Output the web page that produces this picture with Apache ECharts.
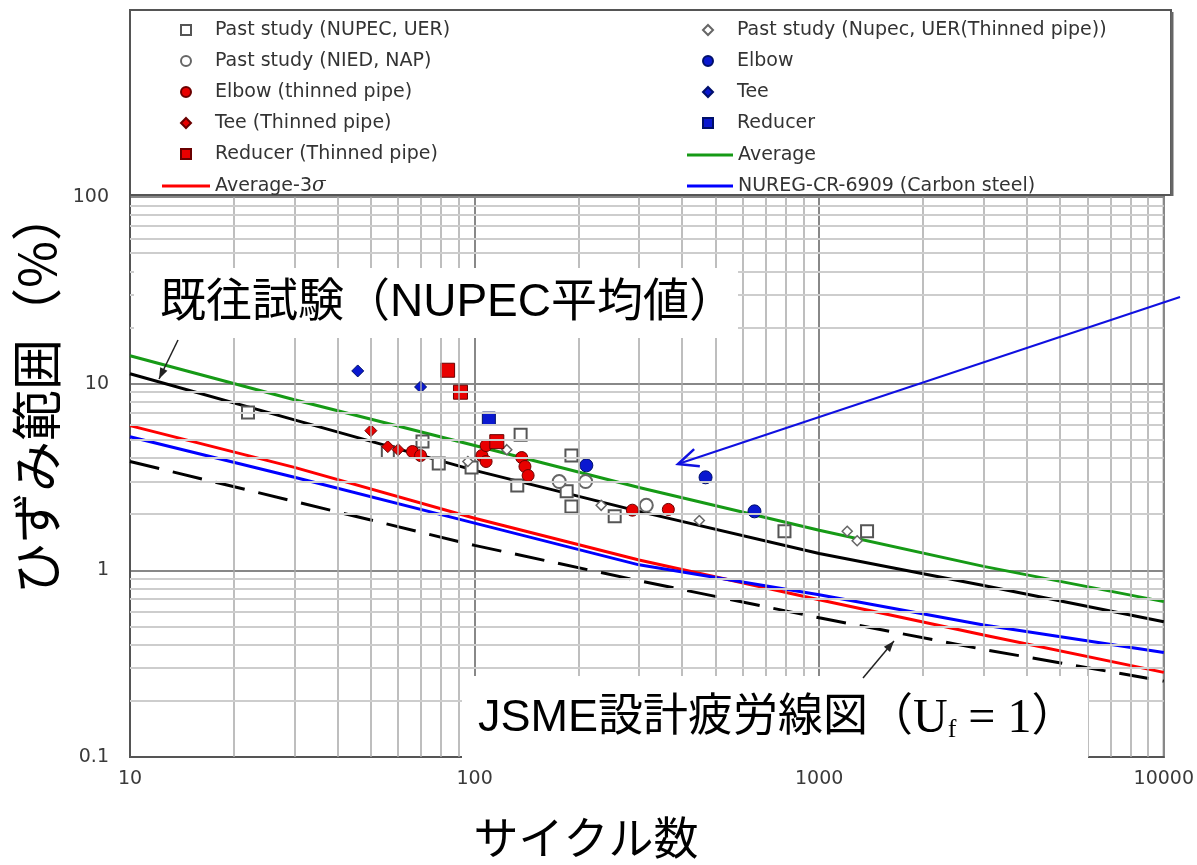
<!DOCTYPE html>
<html>
<head>
<meta charset="utf-8">
<script src="https://cdn.jsdelivr.net/npm/echarts@6/dist/echarts.min.js"></script>
<style>
  html, body { margin: 0; padding: 0; background: #fff; }
  #chart { width: 1197px; height: 865px; }
</style>
</head>
<body>
<div id="chart"></div>
<script>
// ---- Fatigue curves (strain range % vs. number of cycles) ----
const cycles = [10, 30, 100, 300, 1000, 3000, 10000];
const averageCurve = [14.1, 8.2, 4.66, 2.78, 1.64, 1.05, 0.68];
const nupecAverageCurve = [11.3, 6.4, 3.43, 2.07, 1.23, 0.83, 0.53];
const averageMinus3sCurve = [5.96, 3.56, 1.9, 1.135, 0.695, 0.45, 0.284];
const nuregCurve = [5.2, 3.15, 1.79, 1.07, 0.74, 0.51, 0.363];
const jsmeCurve = [3.83, 2.34, 1.36, 0.88, 0.557, 0.377, 0.255];

// ---- Test results [cycles, strain range %] ----
const pastNupecUer = [[22, 7.0], [56, 4.3], [70.6, 4.9], [78.7, 3.73], [98, 3.56], [133, 2.85], [136, 5.33],
  [185, 2.65], [191, 4.12], [191, 2.2], [255, 1.95], [793, 1.62], [1377, 1.62]];
const pastNupecThinned = [[95.6, 3.83], [124, 4.43], [233, 2.23], [449, 1.85], [1206, 1.62], [1289, 1.44]];
const pastNiedNap = [[176, 2.99], [210, 2.99], [315, 2.23]];
const elbow = [[211, 3.65], [468, 3.15], [649, 2.07]];
const tee = [[45.8, 11.7], [69.7, 9.6]];
const reducer = [[110, 6.5]];
const elbowThinned = [[66, 4.33], [69.7, 4.12], [105, 4.12], [108, 4.66], [108, 3.83], [137, 4.02],
  [140, 3.6], [143, 3.22], [287, 2.1], [365, 2.12]];
const teeThinned = [[50, 5.6], [56, 4.6], [60, 4.43]];
const reducerThinned = [[83.5, 11.8], [91, 9.0], [116, 4.89]];

// ---- Tick labels ----
const xTickLabels = { 10: '10', 100: '100', 1000: '1000', 10000: '10000' };
const yTickLabels = { 0.1: '0.1', 1: '1', 10: '10', 100: '100' };

const NAMES = {
  uer: 'Past study (NUPEC, UER)',
  uerThin: 'Past study (Nupec, UER(Thinned pipe))',
  nied: 'Past study (NIED, NAP)',
  elbow: 'Elbow',
  elbowThin: 'Elbow (thinned pipe)',
  tee: 'Tee',
  teeThin: 'Tee (Thinned pipe)',
  reducer: 'Reducer',
  reducerThin: 'Reducer (Thinned pipe)',
  avg: 'Average',
  avg3s: 'Average-3σ',
  nureg: 'NUREG-CR-6909 (Carbon steel)'
};

const pair = arr => cycles.map((c, i) => [c, arr[i]]);

// Log-paper minor grid lines (2..9 within each decade)
const minorGrid = [];
[10, 100, 1000].forEach(d => { for (let k = 2; k <= 9; k++) minorGrid.push({ xAxis: d * k, lineStyle: { color: '#a8a8a8', width: 1.5, type: 'solid' } }); });
[0.1, 1, 10].forEach(d => { for (let k = 2; k <= 9; k++) minorGrid.push({ yAxis: +(d * k).toFixed(2), lineStyle: { color: '#cdcdcd', width: 2, type: 'solid' } }); });

const BLUE = '#0a18d0', BLUE_EDGE = '#00106a';
const RED = '#e80000', RED_EDGE = '#6a0000';

function lineSeries(name, data, color, extra) {
  return Object.assign({
    name, type: 'line', data: pair(data), symbol: 'none', showSymbol: false, smooth: false,
    lineStyle: { color, width: 3 }, itemStyle: { color }, z: 2, silent: true
  }, extra || {});
}
function scatterSeries(name, data, symbol, size, fill, edge, bw) {
  return {
    name, type: 'scatter', data, symbol, symbolSize: size, z: 3,
    itemStyle: { color: fill, borderColor: edge, borderWidth: bw, opacity: 1 }
  };
}

// Arrow head helpers (annotation drawings)
function filledHead(tail, tip, len, half) {
  const dx = tip[0] - tail[0], dy = tip[1] - tail[1];
  const L = Math.hypot(dx, dy), ux = dx / L, uy = dy / L;
  const bx = tip[0] - ux * len, by = tip[1] - uy * len;
  return [tip, [bx - uy * half, by + ux * half], [bx + uy * half, by - ux * half]];
}
function openHead(tail, tip, len, half) {
  const p = filledHead(tail, tip, len, half);
  return [p[1], p[0], p[2]];
}

const legendText = { fontFamily: 'DejaVu Sans', fontSize: 19, color: '#333',
  rich: { n: { fontFamily: 'DejaVu Sans', fontSize: 19, color: '#333' },
          s: { fontFamily: 'DejaVu Serif', fontStyle: 'italic', fontSize: 20, color: '#333' } } };
const legendFormatter = name => name === NAMES.avg3s ? '{n|Average-3}{s|σ}' : name;
const lineIcon = name => ({ name, icon: 'rect' });

const arrow1 = { tail: [178, 340], tip: [159, 379] };
const arrow2 = { tail: [863, 678], tip: [894, 641] };
const arrowBlue = { tail: [1180, 297], tip: [678, 464] };

const JP = '"Liberation Sans", "Noto Sans CJK JP", sans-serif';

const option = {
  animation: false,
  backgroundColor: '#fff',
  grid: { left: 130, right: 32, top: 197, bottom: 105, show: true, borderColor: '#555', borderWidth: 2, backgroundColor: '#fff' },
  xAxis: {
    type: 'log', logBase: 10, min: 10, max: 10000,
    name: 'サイクル数', nameLocation: 'middle', nameGap: 58,
    nameTextStyle: { fontFamily: 'Noto Sans CJK JP', fontSize: 45, color: '#000', padding: [0, 122, 0, 0] },
    axisLine: { show: true, lineStyle: { color: '#555', width: 2 } },
    axisTick: { show: false },
    axisLabel: { fontFamily: 'DejaVu Sans', fontSize: 19, color: '#3a3a3a', margin: 13,
      formatter: v => xTickLabels[Math.round(v)] || '' },
    splitLine: { show: true, lineStyle: { color: '#888', width: 2 } }
  },
  yAxis: {
    type: 'log', logBase: 10, min: 0.1, max: 100,
    name: 'ひずみ範囲（%）', nameLocation: 'middle', nameRotate: 90, nameGap: 62,
    nameTextStyle: { fontFamily: 'Noto Sans CJK JP', fontSize: 51, color: '#000', padding: [0, 0, 0, 170] },
    axisLine: { show: true, lineStyle: { color: '#555', width: 2 } },
    axisTick: { show: false },
    axisLabel: { fontFamily: 'DejaVu Sans', fontSize: 19, color: '#3a3a3a', margin: 21,
      formatter: v => yTickLabels[+(+v).toPrecision(3)] || '' },
    splitLine: { show: true, lineStyle: { color: '#888', width: 2 } }
  },
  legend: [
    { left: 175, top: 15, orient: 'vertical', itemWidth: 10, itemHeight: 10, itemGap: 11,
      data: [NAMES.uer, NAMES.nied, NAMES.elbowThin, NAMES.teeThin, NAMES.reducerThin],
      textStyle: Object.assign({ padding: [0, 0, 0, 19], lineHeight: 20 }, legendText), selectedMode: false },
    { left: 157, top: 171, orient: 'vertical', itemWidth: 48, itemHeight: 3, itemGap: 11,
      data: [lineIcon(NAMES.avg3s)], formatter: legendFormatter,
      textStyle: Object.assign({ lineHeight: 20 }, legendText), selectedMode: false },
    { left: 697, top: 15, orient: 'vertical', itemWidth: 10, itemHeight: 10, itemGap: 11,
      data: [NAMES.uerThin, NAMES.elbow, NAMES.tee, NAMES.reducer],
      textStyle: Object.assign({ padding: [0, 0, 0, 19], lineHeight: 20 }, legendText), selectedMode: false },
    { left: 682, top: 140, orient: 'vertical', itemWidth: 46, itemHeight: 3, itemGap: 11,
      data: [lineIcon(NAMES.avg), lineIcon(NAMES.nureg)],
      textStyle: Object.assign({ lineHeight: 20 }, legendText), selectedMode: false }
  ],
  series: [
    { name: 'grid', type: 'line', data: [], z: 1, silent: true,
      markLine: { silent: true, symbol: ['none', 'none'], label: { show: false }, animation: false, data: minorGrid } },
    lineSeries(NAMES.avg, averageCurve, '#169a16'),
    lineSeries('NUPEC平均値', nupecAverageCurve, '#000'),
    lineSeries(NAMES.avg3s, averageMinus3sCurve, '#ff0000'),
    lineSeries(NAMES.nureg, nuregCurve, '#0000ff'),
    lineSeries('JSME設計疲労線図', jsmeCurve, '#000', { lineStyle: { color: '#000', width: 3, type: [30, 14] } }),
    scatterSeries(NAMES.uer, pastNupecUer, 'rect', 12, '#fff', '#555', 2),
    scatterSeries(NAMES.uerThin, pastNupecThinned, 'diamond', 10, '#fff', '#666', 1.5),
    scatterSeries(NAMES.nied, pastNiedNap, 'circle', 13, '#fff', '#666', 2),
    scatterSeries(NAMES.elbow, elbow, 'circle', 13, BLUE, BLUE_EDGE, 1),
    scatterSeries(NAMES.tee, tee, 'diamond', 12, BLUE, BLUE_EDGE, 1),
    scatterSeries(NAMES.reducer, reducer, 'rect', 13, BLUE, BLUE_EDGE, 1),
    scatterSeries(NAMES.elbowThin, elbowThinned, 'circle', 12, RED, RED_EDGE, 1),
    scatterSeries(NAMES.teeThin, teeThinned, 'diamond', 12, RED, RED_EDGE, 1),
    scatterSeries(NAMES.reducerThin, reducerThinned, 'rect', 14, RED, RED_EDGE, 1)
  ],
  graphic: [
    // legend frame (with a slightly heavier right/bottom edge)
    { type: 'rect', shape: { x: 130, y: 10, width: 1041, height: 185 }, style: { fill: '#fff', stroke: '#555', lineWidth: 2 }, z: 1 },
    { type: 'polyline', shape: { points: [[1172, 12], [1172, 196]] }, style: { stroke: '#666', lineWidth: 3, fill: null }, z: 1 },
    // annotation: NUPEC average
    { type: 'rect', shape: { x: 134, y: 268, width: 604, height: 70 }, style: { fill: '#fff' }, z: 10 },
    { type: 'text', x: 160, y: 303, z: 11,
      style: { text: '既往試験（NUPEC平均値）', font: '46px ' + JP, fill: '#000', verticalAlign: 'middle' } },
    { type: 'line', shape: { x1: arrow1.tail[0], y1: arrow1.tail[1], x2: arrow1.tip[0], y2: arrow1.tip[1] }, style: { stroke: '#222', lineWidth: 1.5 }, z: 11 },
    { type: 'polygon', shape: { points: filledHead(arrow1.tail, arrow1.tip, 11, 4) }, style: { fill: '#222' }, z: 11 },
    // annotation: JSME design fatigue curve
    { type: 'rect', shape: { x: 462, y: 676, width: 626, height: 82 }, style: { fill: '#fff' }, z: 10 },
    { type: 'text', x: 478, y: 719, z: 11,
      style: {
        text: '{j|JSME設計疲労線図（}{u|U}{f|f}{e| = 1}{j|）}', verticalAlign: 'middle',
        rich: {
          j: { font: '45px ' + JP, fill: '#000' },
          u: { fontFamily: 'Liberation Serif', fontSize: 48, fill: '#000' },
          f: { fontFamily: 'Liberation Serif', fontSize: 26, fill: '#000', padding: [22, 0, 0, 0] },
          e: { fontFamily: 'Liberation Serif', fontSize: 48, fill: '#000' }
        }
      } },
    { type: 'line', shape: { x1: arrow2.tail[0], y1: arrow2.tail[1], x2: arrow2.tip[0], y2: arrow2.tip[1] }, style: { stroke: '#222', lineWidth: 1.5 }, z: 11 },
    { type: 'polygon', shape: { points: filledHead(arrow2.tail, arrow2.tip, 11, 4) }, style: { fill: '#222' }, z: 11 },
    // blue pointer arrow
    { type: 'line', shape: { x1: arrowBlue.tail[0], y1: arrowBlue.tail[1], x2: arrowBlue.tip[0], y2: arrowBlue.tip[1] }, style: { stroke: '#1010e0', lineWidth: 2 }, z: 11 },
    { type: 'polyline', shape: { points: openHead(arrowBlue.tail, arrowBlue.tip, 20, 9) }, style: { stroke: '#1010e0', lineWidth: 2.5, fill: null }, z: 11 }
  ]
};

const chart = echarts.init(document.getElementById('chart'), null, { renderer: 'canvas' });
chart.setOption(option);
</script>
</body>
</html>
